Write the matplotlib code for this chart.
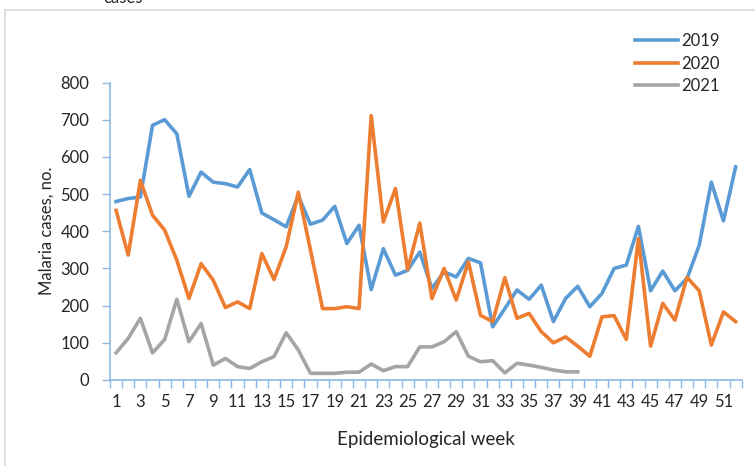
import matplotlib
matplotlib.use("Agg")
import matplotlib.pyplot as plt
from matplotlib.lines import Line2D

weeks = list(range(1, 53))

cases_2019 = [480, 488, 492, 685, 700, 662, 494, 559, 532, 528,
              519, 566, 449, 431, 412, 495, 419, 430, 467, 367,
              416, 243, 353, 282, 295, 344, 246, 291, 277, 327,
              315, 143, 192, 242, 217, 255, 157, 219, 252, 197,
              233, 300, 309, 413, 240, 293, 240, 273, 362, 532,
              428, 573]

cases_2020 = [456, 336, 537, 443, 403, 322, 219, 313, 268, 195,
              210, 192, 340, 270, 358, 505, 350, 192, 192, 197,
              192, 711, 425, 515, 297, 422, 219, 300, 215, 318,
              174, 157, 275, 166, 179, 130, 100, 116, 91, 64,
              170, 173, 109, 380, 91, 206, 161, 276, 240, 94,
              183, 157]

weeks_2021 = list(range(1, 40))
cases_2021 = [73, 112, 166, 73, 109, 217, 103, 152, 40, 58,
              36, 31, 49, 63, 127, 81, 18, 18, 18, 21,
              21, 43, 25, 36, 36, 89, 89, 103, 130, 64,
              49, 52, 19, 45, 40, 34, 27, 22, 22]

y_ticks = [0, 100, 200, 300, 400, 500, 600, 700, 800]
x_labels = list(range(1, 53, 2))

c19, c20, c21 = "#5b9bd5", "#ed7d31", "#a5a5a5"
axc = "#8db8e3"
txt = "#262626"

plt.rcParams["font.family"] = ["Lato", "DejaVu Sans"]

fig = plt.figure(figsize=(7.55, 4.66), dpi=100)
ax = fig.add_axes([110 / 755, 86 / 466, 631.7 / 755, 297.5 / 466])

lw = 2.6
ax.plot(weeks, cases_2019, color=c19, lw=lw, solid_joinstyle="round")
ax.plot(weeks, cases_2020, color=c20, lw=lw, solid_joinstyle="round")
ax.plot(weeks_2021, cases_2021, color=c21, lw=lw, solid_joinstyle="round")

ax.set_xlim(0.5, 52.5)
ax.set_ylim(0, 800)
ax.set_yticks(y_ticks)
ax.set_xticks([w + 0.5 for w in [0] + weeks])
ax.set_xticklabels([])
ax.set_xticks(x_labels, minor=True)
ax.set_xticklabels([str(w) for w in x_labels], minor=True)
ax.tick_params(axis="x", which="major", length=6, width=1, color=axc, direction="out")
ax.tick_params(axis="x", which="minor", length=0, pad=10, labelsize=12, labelcolor=txt)
ax.tick_params(axis="y", length=6, width=1, color=axc, labelsize=12, labelcolor=txt, pad=9)

for s in ["top", "right"]:
    ax.spines[s].set_visible(False)
for s in ["left", "bottom"]:
    ax.spines[s].set_color(axc)
    ax.spines[s].set_linewidth(1.2)

ax.set_xlabel("Epidemiological week", fontsize=13.5, color=txt, labelpad=15)
ax.set_ylabel("Malaria cases, no.", fontsize=12, color=txt, labelpad=4)

handles = [Line2D([], [], color=c, lw=lw) for c in (c19, c20, c21)]
fig.legend(handles, ["2019", "2020", "2021"], loc="upper left",
           bbox_to_anchor=(620 / 755, 1 - 18 / 466), frameon=False,
           fontsize=12, handlelength=2.6, handletextpad=0.2,
           labelspacing=0.4, labelcolor=txt)

# frame of the figure box and cut caption text at the top
fig.add_artist(Line2D([5 / 755, 5 / 755], [0, 1 - 10 / 466], color="#d9d9d9", lw=1.2,
                      transform=fig.transFigure))
fig.add_artist(Line2D([5 / 755, 1], [1 - 10 / 466, 1 - 10 / 466], color="#d9d9d9", lw=1.2,
                      transform=fig.transFigure))
fig.text(103 / 755, 1 - 3 / 466, "cases", fontsize=12, color=txt, va="baseline")

fig.savefig("out.png", dpi=100)
